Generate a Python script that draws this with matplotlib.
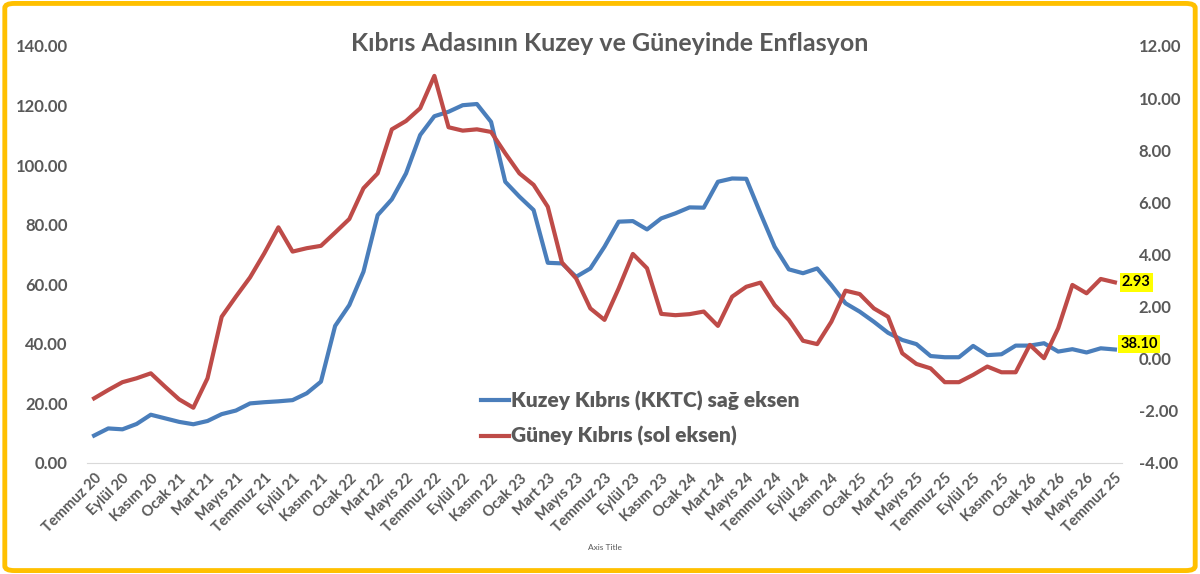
import matplotlib.pyplot as plt
from matplotlib.patches import FancyBboxPatch
from matplotlib.ticker import FormatStrFormatter

plt.rcParams['font.family'] = ['Lato', 'DejaVu Sans']

# monthly values, Temmuz 20 onward
kuzey = [9.2, 11.6, 11.3, 13.1, 16.2, 15.0, 13.8, 13.0, 14.1, 16.4,
         17.6, 20.0, 20.4, 20.7, 21.1, 23.4, 27.3, 46.0, 53.0, 64.2,
         83.2, 88.5, 97.2, 110.1, 116.4, 117.9, 120.1, 120.5, 114.5, 94.4,
         89.4, 84.9, 67.2, 67.0, 62.5, 65.3, 72.6, 81.0, 81.2, 78.4,
         82.1, 83.8, 85.8, 85.7, 94.4, 95.5, 95.4, 83.8, 72.6, 65.0,
         63.7, 65.3, 59.7, 53.6, 50.8, 47.4, 43.7, 41.3, 39.9, 35.9,
         35.5, 35.5, 39.3, 36.2, 36.5, 39.4, 39.4, 40.2, 37.4, 38.2,
         37.1, 38.5, 38.10]

guney = [-1.52, -1.2, -0.9, -0.75, -0.56, -1.07, -1.56, -1.88, -0.75, 1.61,
         2.38, 3.12, 4.04, 5.04, 4.11, 4.24, 4.33, 4.84, 5.36, 6.54,
         7.11, 8.8, 9.12, 9.61, 10.85, 8.88, 8.75, 8.8, 8.7, 7.88,
         7.11, 6.67, 5.83, 3.69, 3.08, 1.93, 1.49, 2.7, 4.02, 3.47,
         1.72, 1.67, 1.71, 1.81, 1.26, 2.38, 2.76, 2.92, 2.06, 1.49,
         0.69, 0.56, 1.42, 2.61, 2.48, 1.93, 1.61, 0.21, -0.2, -0.37,
         -0.9, -0.9, -0.62, -0.3, -0.52, -0.52, 0.53, 0.02, 1.17, 2.83,
         2.51, 3.06, 2.93]

tick_labels = ['Temmuz 20', 'Eylül 20', 'Kasım 20', 'Ocak 21', 'Mart 21', 'Mayıs 21',
               'Temmuz 21', 'Eylül 21', 'Kasım 21', 'Ocak 22', 'Mart 22', 'Mayıs 22',
               'Temmuz 22', 'Eylül 22', 'Kasım 22', 'Ocak 23', 'Mart 23', 'Mayıs 23',
               'Temmuz 23', 'Eylül 23', 'Kasım 23', 'Ocak 24', 'Mart 24', 'Mayıs 24',
               'Temmuz 24', 'Eylül 24', 'Kasım 24', 'Ocak 25', 'Mart 25', 'Mayıs 25',
               'Temmuz 25', 'Eylül 25', 'Kasım 25', 'Ocak 26', 'Mart 26', 'Mayıs 26',
               'Temmuz 25']

gray = '#595959'
blue = '#4A7EBB'
red = '#BE4B48'

fig = plt.figure(figsize=(12, 5.74), dpi=100)
ax = fig.add_axes([0.0725, 0.1934, 0.8625, 0.7266])
ax2 = ax.twinx()

x = list(range(len(kuzey)))
l1, = ax.plot(x, kuzey, color=blue, lw=3, solid_joinstyle='round',
              label='Kuzey Kıbrıs (KKTC) sağ eksen')
l2, = ax2.plot(x, guney, color=red, lw=3, solid_joinstyle='round',
               label='Güney Kıbrıs (sol eksen)')

ax.set_xlim(-0.5, len(kuzey) - 0.5)
ax.set_ylim(0, 140)
ax.set_yticks(range(0, 141, 20))
ax2.set_ylim(-4, 12)
ax2.set_yticks(range(-4, 13, 2))
ax.yaxis.set_major_formatter(FormatStrFormatter('%.2f'))
ax2.yaxis.set_major_formatter(FormatStrFormatter('%.2f'))

ax.set_xticks(range(0, len(kuzey), 2))
ax.set_xticklabels(tick_labels, rotation=45, ha='right', rotation_mode='anchor')

for a in (ax, ax2):
    for s in a.spines.values():
        s.set_visible(False)
    a.tick_params(length=0, colors=gray, labelsize=12)
    for t in a.get_yticklabels() + a.get_xticklabels():
        t.set_fontweight('bold')
ax.spines['bottom'].set_visible(True)
ax.spines['bottom'].set_color('#D9D9D9')
ax.tick_params(axis='x', labelsize=10.5, pad=6)
ax.tick_params(axis='y', pad=14)
ax2.tick_params(axis='y', pad=12)

ax.set_xlabel('Axis Title', fontsize=6, color=gray, labelpad=6)

# end-of-line value labels
ax.annotate(f'{kuzey[-1]:.2f}', (x[-1], kuzey[-1]), xytext=(4, 4), textcoords='offset points',
            va='center', ha='left', fontsize=10.5, fontweight='bold', color='black',
            bbox=dict(boxstyle='square,pad=0.15', fc='#FFFF00', ec='none'))
ax2.annotate(f'{guney[-1]:.2f}', (x[-1], guney[-1]), xytext=(5, 0), textcoords='offset points',
             va='center', ha='left', fontsize=10.5, fontweight='bold', color='black',
             bbox=dict(boxstyle='square,pad=0.15', fc='#FFFF00', ec='none'))

leg = ax2.legend(handles=[l1, l2], loc='lower left', bbox_to_anchor=(0.363, -0.005),
                 frameon=False, prop={'size': 15, 'weight': 'heavy'},
                 handlelength=1.3, handletextpad=0.1, labelspacing=0.75)
for t in leg.get_texts():
    t.set_color(gray)

fig.text(0.508, 0.925, 'Kıbrıs Adasının Kuzey ve Güneyinde Enflasyon',
         ha='center', va='center', fontsize=18, fontweight='bold', color=gray)

border = FancyBboxPatch((0.004, 0.006), 0.992, 0.988, boxstyle='round,pad=0,rounding_size=0.008',
                        transform=fig.transFigure, ec='#FFC000', fc='none', lw=3.5)
fig.patches.append(border)

fig.savefig('out.png', dpi=100)
